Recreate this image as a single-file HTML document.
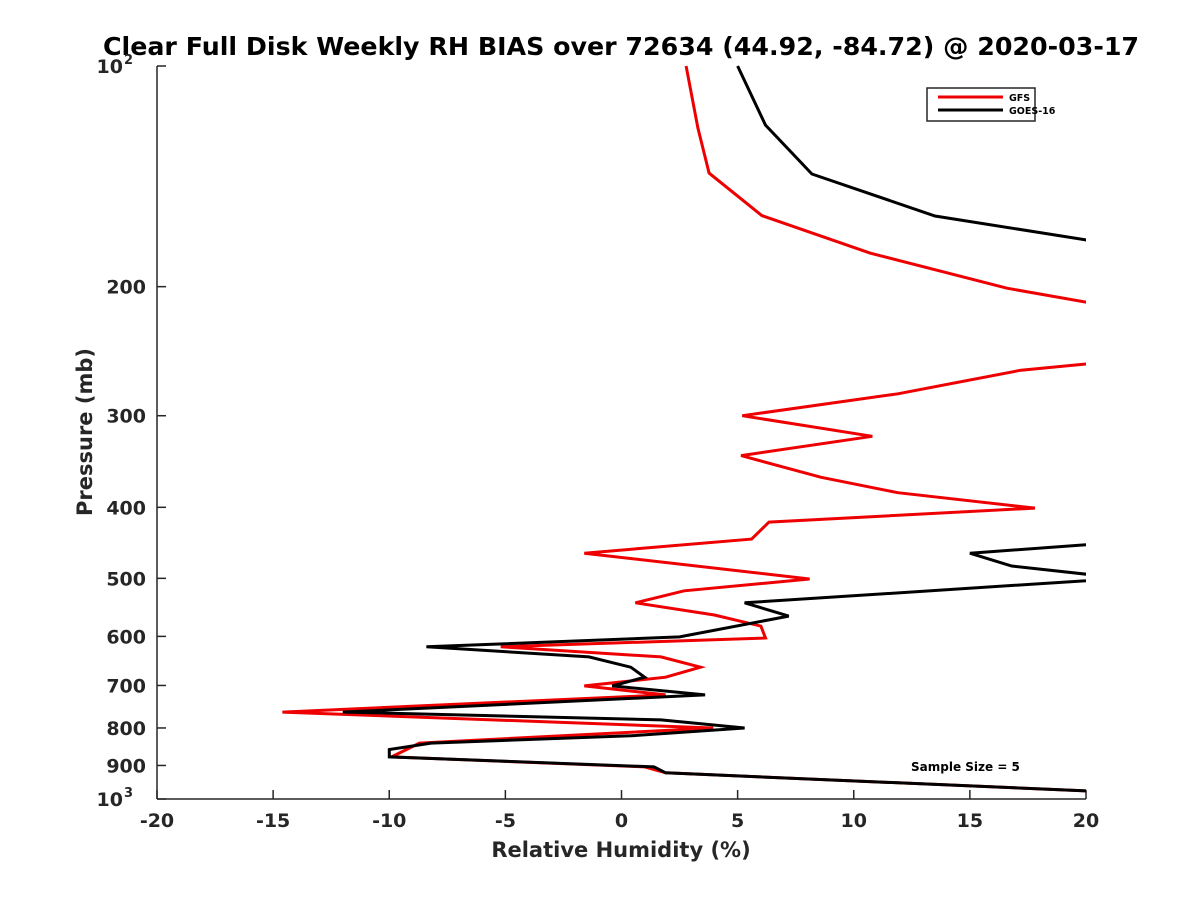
<!DOCTYPE html>
<html><head><meta charset="utf-8"><style>
html,body{margin:0;padding:0;background:#fff;}
svg text{font-family:"DejaVu Sans","Liberation Sans",sans-serif;font-weight:bold;}
</style></head><body>
<svg id="chart" width="1200" height="900" viewBox="0 0 1200 900" xmlns="http://www.w3.org/2000/svg">
<rect width="1200" height="900" fill="#fff"/>
<defs><clipPath id="plotclip"><rect x="157" y="60" width="929" height="740"/></clipPath></defs>
<text x="621" y="55" font-size="25.3" text-anchor="middle" fill="#000">Clear Full Disk Weekly RH BIAS over 72634 (44.92, -84.72) @ 2020-03-17</text>
<g id="axes"></g>
<g id="series" clip-path="url(#plotclip)"></g>
<text x="621" y="857" font-size="21" text-anchor="middle" fill="#262626">Relative Humidity (%)</text>
<text transform="translate(92,432) rotate(-90)" font-size="21" text-anchor="middle" fill="#262626">Pressure (mb)</text>
<g>
<rect x="927" y="88" width="108" height="33" fill="#fff" stroke="#262626" stroke-width="1.5"/>
<line x1="938" y1="97" x2="1003" y2="97" stroke="#e00" stroke-width="3"/>
<text x="1009" y="101" font-size="9.5" fill="#000">GFS</text>
<line x1="938" y1="110" x2="1003" y2="110" stroke="#000" stroke-width="3"/>
<text x="1009" y="114" font-size="9.5" fill="#000">GOES-16</text>
</g>
<text x="911" y="771" font-size="12" fill="#000">Sample Size = 5</text>
</svg>
<script>
const xTicks = [-20,-15,-10,-5,0,5,10,15,20];
const yTickLabels = [200,300,400,500,600,700,800,900];
const gfsPressure = [100,121.5,140,160,180,201,210,229,255,260,280,300,320,340,364,382,401,419,442,462,501,520,540,561,581,603,620,640,661,682,701,721,761,800,839,876,904,921,975];
const gfsBias = [2.78,3.29,3.77,6.04,10.7,16.6,20,25,20,17.2,11.9,5.2,10.8,5.15,8.6,11.9,17.8,6.35,5.6,-1.6,8.1,2.7,0.6,4.0,6.0,6.2,-5.2,1.7,3.4,1.9,-1.6,1.9,-14.6,3.95,-8.7,-9.9,1.0,1.9,20];
const goesPressure = [100,120.4,140.4,160.2,172.7,300,450,462,481,500,540,563,601,620,640,661,682,701,721,761,780,800,820,839,856,876,904,921,975];
const goesBias = [5.0,6.2,8.2,13.5,20,30,20,15.0,16.8,21.6,5.3,7.2,2.5,-8.4,-1.4,0.4,1.0,-0.4,3.6,-12.0,1.7,5.3,0.4,-8.2,-10,-10,1.4,1.9,20];

const L=157,R=1086,T=66,B=799;
const xs=v=>L+(v+20)/40*(R-L);
const ys=p=>T+(Math.log10(p)-2)*(B-T);
const NS='http://www.w3.org/2000/svg';
const ax=document.getElementById('axes');
function mk(tag,attrs,parent){const e=document.createElementNS(NS,tag);for(const k in attrs)e.setAttribute(k,attrs[k]);parent.appendChild(e);return e;}
const c='#262626';
const yl=mk('line',{x1:L,y1:T,x2:L,y2:B,stroke:c,'stroke-width':1.5},ax);


const xl=mk('line',{x1:L,y1:B,x2:R,y2:B,stroke:c,'stroke-width':1.5},ax);


xTicks.forEach(v=>{
  const x=xs(v);
  mk('line',{x1:x,y1:B,x2:x,y2:B-9,stroke:c,'stroke-width':1.5},ax);
  const t=mk('text',{x:x,y:B+28,'font-size':19,'text-anchor':'middle',fill:c},ax);
  t.textContent=String(v);
  
  
});
yTickLabels.forEach(p=>{
  const y=ys(p);
  mk('line',{x1:L,y1:y,x2:L+9,y2:y,stroke:c,'stroke-width':1.5},ax);
  const t=mk('text',{x:L-11,y:y+7,'font-size':19,'text-anchor':'end',fill:c},ax);
  t.textContent=String(p);
  
  
});
[[100,'2'],[1000,'3']].forEach(([p,e])=>{
  const y=ys(p);
  mk('line',{x1:L,y1:y,x2:L+9,y2:y,stroke:c,'stroke-width':1.5},ax);
  const t=mk('text',{x:L-34,y:y+7,'font-size':19,'text-anchor':'end',fill:c},ax);
  t.textContent='10';
  
  
  const s=mk('text',{x:L-33,y:y-2,'font-size':13,fill:c},ax);
  s.textContent=e;
  
  
});
const sg=document.getElementById('series');
function draw(vals,pres,color,name){
  const d=vals.map((v,i)=>(i?'L':'M')+xs(v).toFixed(1)+','+ys(pres[i]).toFixed(1)).join(' ');
  const p=mk('path',{d:d,fill:'none',stroke:color,'stroke-width':3,'stroke-linejoin':'miter'},sg);
  
  
}
draw(gfsBias,gfsPressure,'#e00','gfs-line');
draw(goesBias,goesPressure,'#000','goes16-line');
</script>
</body></html>
